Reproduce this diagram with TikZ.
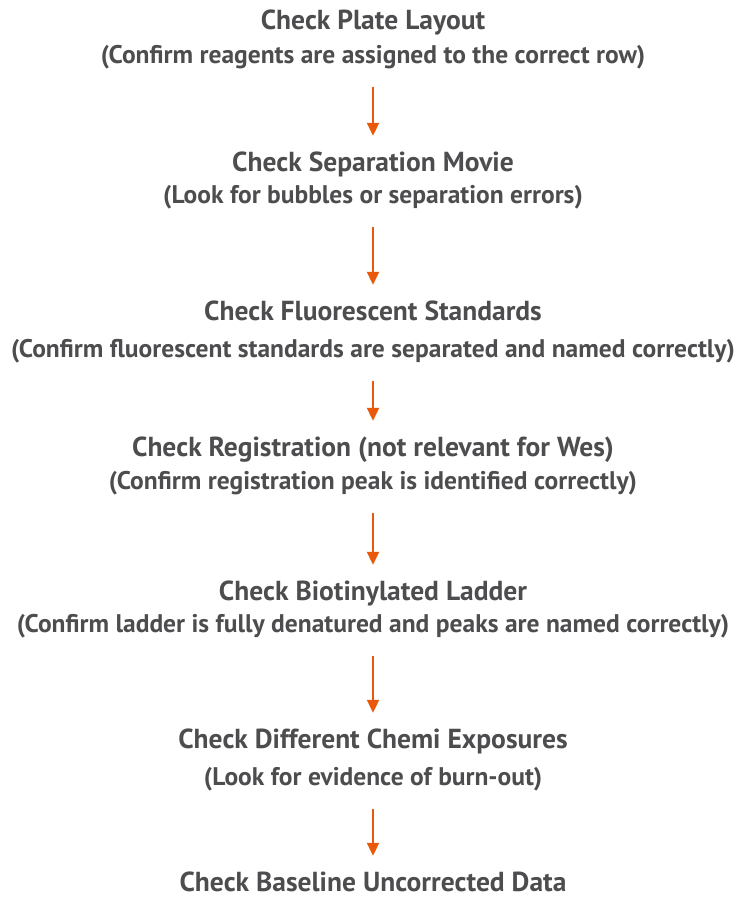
\documentclass[tikz,border=0pt]{standalone}
\usepackage{fontspec}
\setmainfont{PT Sans}
\usetikzlibrary{arrows.meta}
\definecolor{textgray}{HTML}{4D4D4F}
\definecolor{flow}{HTML}{E8590C}
\begin{document}
\begin{tikzpicture}[x=1pt,y=-1pt,
  title/.style={anchor=base,inner sep=0pt,text height=20pt,text depth=0pt,text=textgray,
    font=\bfseries\fontsize{27.5}{32}\selectfont},
  note/.style={anchor=base,inner sep=0pt,text height=19pt,text depth=6pt,text=textgray,
    font=\bfseries\fontsize{25.5}{30}\selectfont},
  flowarrow/.style={flow,line width=2pt,-{Triangle[width=12pt,length=13pt]},
    shorten <=18pt,shorten >=15pt}]
\useasboundingbox (0,0) rectangle (741,897);
\node[title] (t1) at (373,29)  {Check Plate Layout};
\node[note]  (n1) at (373,63)  {(Confirm reagents are assigned to the correct row)};
\node[title] (t2) at (373,171) {Check Separation Movie};
\node[note]  (n2) at (373,203) {(Look for bubbles or separation errors)};
\node[title] (t3) at (373,320) {Check Fluorescent Standards};
\node[note]  (n3) at (373,357) {(Confirm fluorescent standards are separated and named correctly)};
\node[title] (t4) at (373,456) {Check Registration (not relevant for Wes)};
\node[note]  (n4) at (373,489) {(Confirm registration peak is identified correctly)};
\node[title] (t5) at (373,600) {Check Biotinylated Ladder};
\node[note]  (n5) at (373,632) {(Confirm ladder is fully denatured and peaks are named correctly)};
\node[title] (t6) at (373,748) {Check Different Chemi Exposures};
\node[note]  (n6) at (373,785) {(Look for evidence of burn-out)};
\node[title] (t7) at (373,891) {Check Baseline Uncorrected Data};
% arrows between the steps
\draw[flowarrow] (n1) -- (t2);
\draw[flowarrow] (n2) -- (t3);
\draw[flowarrow] (n3) -- (t4);
\draw[flowarrow] (n4) -- (t5);
\draw[flowarrow] (n5) -- (t6);
\draw[flowarrow] (n6) -- (t7);
\end{tikzpicture}
\end{document}
